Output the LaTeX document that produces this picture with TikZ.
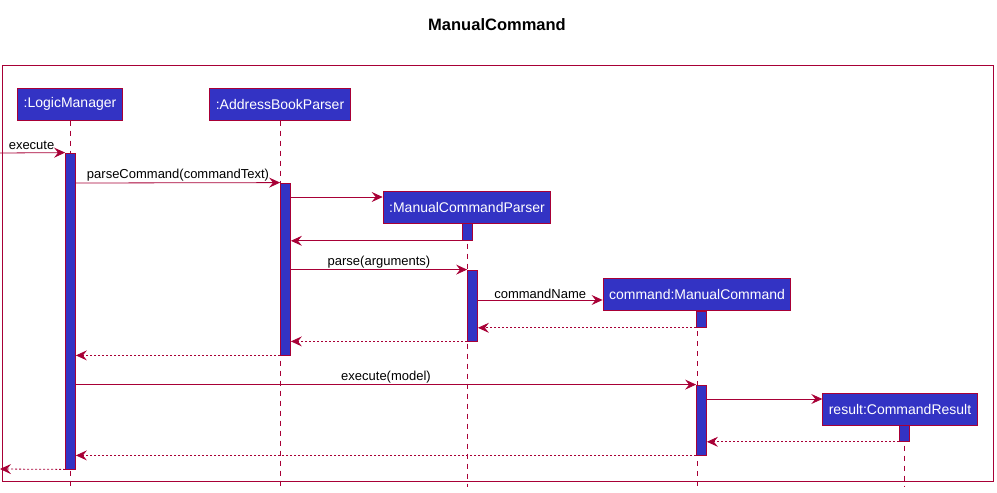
\documentclass[tikz,border=0pt]{standalone}
\usepackage{fontspec}
\setmainfont{Liberation Sans}
\usetikzlibrary{arrows.meta}
\definecolor{umlred}{HTML}{A80036}
\definecolor{umlblue}{HTML}{3333C4}
\tikzset{
  actor/.style={rectangle,draw=umlred,fill=umlblue,line width=1pt,text=white,
    font=\fontsize{14}{16}\selectfont,minimum height=32,inner xsep=6,inner ysep=0},
  act/.style={rectangle,draw=umlred,fill=umlblue,line width=0.8pt,minimum width=10,inner sep=0},
  life/.style={draw=umlred,line width=0.8pt,dash pattern=on 5pt off 5pt},
  msg/.style={draw=umlred,line width=0.8pt,-{Stealth[length=11pt,width=10pt,inset=4pt]}},
  ret/.style={msg,dash pattern=on 2pt off 2pt},
  lbl/.style={font=\fontsize{13}{15}\selectfont,inner sep=1,anchor=south}
}

\begin{document}
\begin{tikzpicture}[x=1pt,y=-1pt]
\useasboundingbox (0,0) rectangle (997,493);

% title and frame
\node[font=\bfseries\fontsize{16.5}{18}\selectfont] (title) at (497,25) {ManualCommand};
\draw[umlred,line width=1pt] (2,65) rectangle (993,481);

% participants
\node[actor] (lm) at (70,104) {:LogicManager};
\node[actor] (abp) at (280,104) {:AddressBookParser};
\node[actor] (mcp) at (467,207) {:ManualCommandParser};
\node[actor] (cmd) at (697,294.5) {command:ManualCommand};
\node[actor] (res) at (900,409) {result:CommandResult};

% lifelines
\coordinate (lmEnd) at (70,487);
\coordinate (abpEnd) at (280,487);
\coordinate (mcpEnd) at (467,487);
\coordinate (cmdEnd) at (697,487);
\coordinate (resEnd) at (904,487);
\draw[life] (lm.south) -- (lmEnd);
\draw[life] (abp.south) -- (abpEnd);
\draw[life] (mcp.south) -- (mcpEnd);
\draw[life] (cmd.south) -- (cmdEnd);
\draw[life] (res.south -| resEnd) -- (resEnd);

% activations
\node[act,minimum height=316] (lmA) at (70.5,311) {};
\node[act,minimum height=172] (abpA) at (285.5,269) {};
\node[act,minimum height=17,anchor=north] (mcpA1) at (467.5,223) {};
\node[act,minimum height=71] (mcpA2) at (472.5,305.5) {};
\node[act,minimum height=16,anchor=north] (cmdA1) at (701.5,311) {};
\node[act,minimum height=70] (cmdA2) at (701.5,420) {};
\node[act,minimum height=16,anchor=north] (resA) at (904.5,425) {};

% messages
\coordinate (inL) at (0,153);
\coordinate (outL) at (0,469);
\draw[msg] (inL) -- (lmA.north west) node[lbl,midway,xshift=-1,yshift=2] {execute};
\draw[msg] (lmA.east |- 0,183) -- (abpA.north west)
  node[lbl,midway] {parseCommand(commandText)};
\draw[msg] (abpA.east |- 0,197) -- (mcp.west |- 0,197);
\draw[msg] (mcpA1.south west) -- (abpA.east |- mcpA1.south);
\draw[msg] (abpA.east |- mcpA2.north) -- (mcpA2.north west)
  node[lbl,midway] {parse(arguments)};
\draw[msg] (mcpA2.east |- 0,300) -- (cmd.west |- 0,300)
  node[lbl,midway] {commandName};
\draw[ret] (cmdA1.south west) -- (mcpA2.east |- cmdA1.south);
\draw[ret] (mcpA2.south west) -- (abpA.east |- mcpA2.south);
\draw[ret] (abpA.south west) -- (lmA.east |- abpA.south);
\draw[msg] (lmA.east |- cmdA2.north) -- (cmdA2.north west)
  node[lbl,midway] {execute(model)};
\draw[msg] (cmdA2.east |- 0,399) -- (res.west |- 0,399);
\draw[ret] (resA.south west) -- (cmdA2.east |- resA.south);
\draw[ret] (cmdA2.south west) -- (lmA.east |- cmdA2.south);
\draw[ret] (lmA.south west) -- (outL);

\end{tikzpicture}
\end{document}
